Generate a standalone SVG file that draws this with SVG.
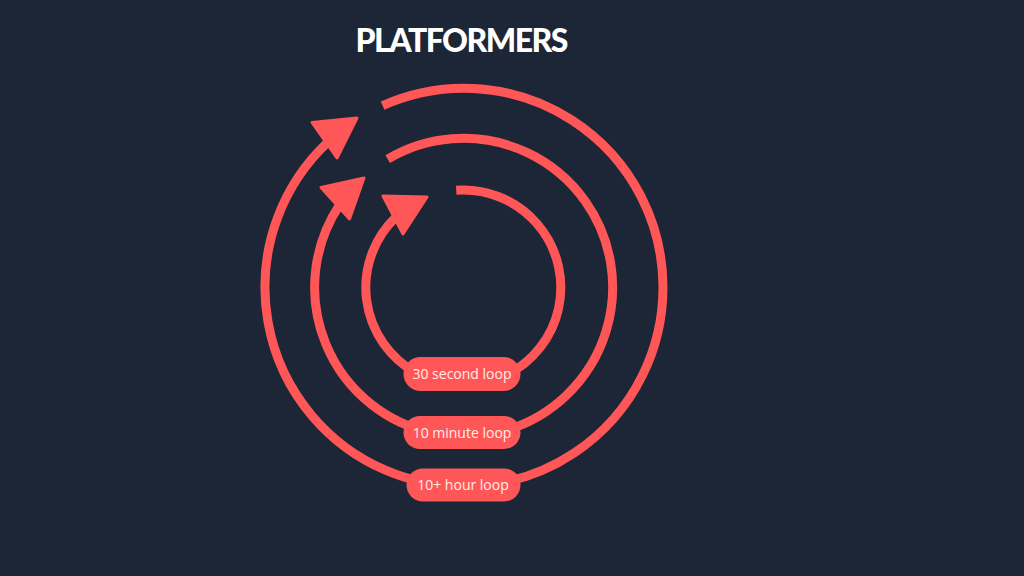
<svg xmlns="http://www.w3.org/2000/svg" width="1024" height="576" viewBox="0 0 1024 576">
  <style>
    .loop { fill: none; stroke: #FF5757; stroke-width: 9; stroke-linecap: butt; }
    .head { fill: #FF5757; stroke: #FF5757; stroke-width: 3; stroke-linejoin: round; }
    .pill { fill: #FF5757; }
    .lbl { font-family: "Open Sans", "Liberation Sans", sans-serif; font-size: 14px; fill: #FFEDEA; text-anchor: middle; }
    .title { font-family: Lato, "Open Sans", "Liberation Sans", sans-serif; font-weight: 900; font-size: 32px; fill: #FFFFFF; text-anchor: middle; }
  </style>
  <rect width="1024" height="576" fill="#1C2636"/>
  <text class="title" x="462" y="52" textLength="213" lengthAdjust="spacing">PLATFORMERS</text>
  <g id="connectors">
    <path class="loop" d="M 382.6 105.7 A 199 199 0 1 1 328 142"/>
    <polygon class="head" points="357,118 312,122.5 337,158"/>
    <path class="loop" d="M 387.7 159.2 A 149 149 0 1 1 339.5 205"/>
    <polygon class="head" points="364,178 321,187.5 349.5,219"/>
    <path class="loop" d="M 456.2 190.3 A 97.5 97.5 0 1 1 396 217"/>
    <polygon class="head" points="427,197 383,196 403,234"/>
  </g>
  <g id="node-30s">
    <rect class="pill" x="403.5" y="357" width="117" height="34" rx="17"/>
    <text class="lbl" x="462" y="379">30 second loop</text>
  </g>
  <g id="node-10m">
    <rect class="pill" x="403.5" y="416" width="117" height="33" rx="16.5"/>
    <text class="lbl" x="462" y="437.5">10 minute loop</text>
  </g>
  <g id="node-10h">
    <rect class="pill" x="406.5" y="468.5" width="114" height="33" rx="16.5"/>
    <text class="lbl" x="463" y="490">10+ hour loop</text>
  </g>
</svg>
